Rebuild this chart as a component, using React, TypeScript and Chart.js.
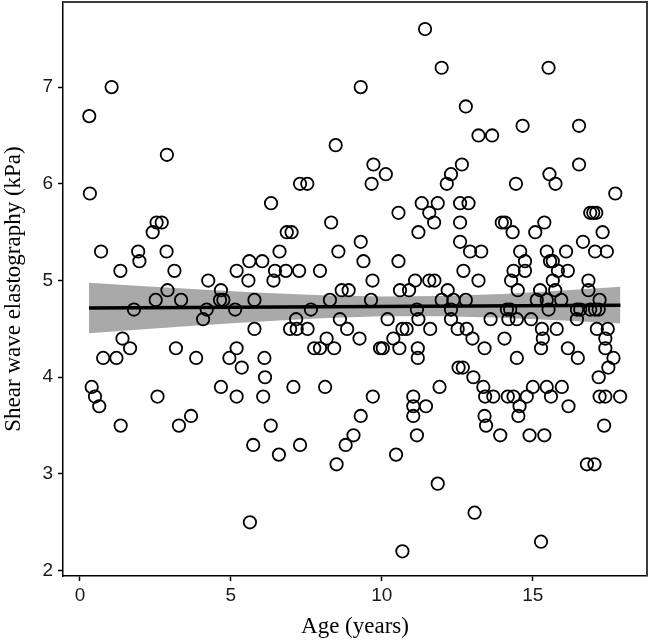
import { useEffect, useRef } from "react";
import { Chart, registerables } from "chart.js";

Chart.register(...registerables);

// Age of each participant (years) and measured liver stiffness (kPa), same order.
const ageYears = [
  0.31, 1.05, 2.88, 0.33, 2.41, 2.54, 2.71, 0.7, 1.93, 1.97, 2.87, 1.34, 3.13, 4.25, 2.9, 2.51, 3.35,
  1.79, 4.08, 4.2, 1.41, 1.66, 0.77, 1.21, 3.18, 3.85, 0.39, 0.5, 0.64, 2.57, 1.35, 3.28, 3.68,
  6.33, 8.32, 6.85, 7.01, 6.61, 8.56, 5.61, 6.04, 5.19, 6.46, 6.82, 7.26, 7.95, 5.58, 6.41, 4.67,
  4.64, 4.75, 5.78, 8.28, 8.67, 8.9, 5.14, 7.65, 7.16, 8.61, 5.78, 6.96, 7.18, 7.54, 8.85, 8.17,
  7.76, 7.95, 8.42, 5.19, 4.95, 6.11, 5.36, 6.13, 4.67, 7.07, 8.12, 5.19, 6.07, 6.32, 5.74, 6.59,
  7.29, 8.5, 5.63, 7.29, 7.53, 8.47, 8.8, 9.06,
  11.43, 11.98, 9.3, 12.78, 13.2, 13.65, 9.72, 10.13, 9.66, 12.65, 12.29, 12.15, 11.32, 11.85,
  12.59, 12.87, 10.55, 11.57, 11.73, 12.59, 11.21, 9.3, 12.59, 12.92, 13.29, 9.39, 10.55, 12.7,
  13.2, 9.69, 11.1, 11.57, 11.74, 10.6, 10.9, 12.18, 9.64, 11.98, 12.37, 12.78, 11.16, 11.21,
  12.29, 12.29, 10.19, 13.6, 10.68, 10.82, 11.6, 12.51, 12.81, 9.26, 10.38, 13.0, 9.94, 10.03,
  10.58, 11.19, 11.19, 13.4, 12.54, 12.68, 13.03, 13.36, 11.91, 9.7, 11.04, 11.04, 11.04, 11.46,
  9.3, 11.16, 10.47, 11.85, 13.07, 10.68, 13.4, 13.45, 13.42,
  13.69, 15.52, 14.66, 16.53, 16.53, 15.55, 15.75, 14.44, 17.73, 16.9, 17.0, 17.1, 13.97, 14.08,
  14.33, 15.38, 15.08, 17.31, 16.66, 14.58, 14.74, 15.46, 15.57, 15.66, 16.1, 17.06, 17.45, 14.74,
  14.36, 15.83, 16.16, 14.28, 15.66, 16.84, 16.84, 14.5, 15.24, 15.74, 15.13, 15.46, 15.94, 17.21,
  17.18, 14.14, 14.25, 15.52, 16.46, 16.57, 16.9, 17.06, 14.19, 14.47, 14.94, 16.46, 15.3, 15.79,
  17.12, 17.48, 15.33, 14.06, 17.4, 15.27, 16.16, 17.4, 16.49, 14.47, 17.67, 17.5, 17.18, 15.0,
  15.46, 15.96, 14.17, 14.36, 14.8, 15.6, 17.21, 17.4, 17.89, 14.56, 16.18, 13.92, 14.52, 14.89,
  15.38, 17.36, 16.79, 17.04, 15.27,
];

const stiffnessKPa = [
  6.7, 7.0, 6.3, 5.9, 5.5, 5.6, 5.6, 5.3, 5.3, 5.2, 5.3, 5.1, 5.1, 5.0, 4.9, 4.8, 4.8,
  4.7, 4.6, 4.7, 4.4, 4.3, 4.2, 4.2, 4.3, 4.2, 3.9, 3.8, 3.7, 3.8, 3.5, 3.5, 3.6,
  5.8, 5.6, 5.5, 5.5, 5.3, 5.3, 5.2, 5.2, 5.1, 5.1, 5.1, 5.1, 5.1, 5.0, 5.0, 4.9,
  4.8, 4.8, 4.8, 4.8, 4.9, 4.9, 4.7, 4.7, 4.6, 4.6, 4.5, 4.5, 4.5, 4.5, 4.5, 4.4,
  4.3, 4.3, 4.3, 4.3, 4.2, 4.2, 4.1, 4.0, 3.9, 3.9, 3.9, 3.8, 3.8, 3.5, 3.3, 3.2,
  3.3, 3.1, 2.5, 6.0, 6.0, 6.4, 3.3, 3.4,
  7.6, 7.2, 7.0, 6.8, 6.5, 6.5, 6.2, 6.1, 6.0, 6.2, 6.1, 6.0, 5.8, 5.8,
  5.8, 5.8, 5.7, 5.7, 5.6, 5.6, 5.5, 5.4, 5.4, 5.3, 5.3, 5.2, 5.2, 5.1,
  5.0, 5.0, 5.0, 5.0, 5.0, 4.9, 4.9, 4.9, 4.8, 4.8, 4.8, 4.8, 4.7, 4.6,
  4.7, 4.6, 4.6, 4.6, 4.5, 4.5, 4.5, 4.5, 4.5, 4.4, 4.4, 4.4, 4.3, 4.3,
  4.3, 4.3, 4.2, 4.3, 4.1, 4.1, 4.0, 3.9, 3.9, 3.8, 3.8, 3.7, 3.6, 3.7,
  3.6, 3.4, 3.2, 2.9, 2.6, 2.2, 3.6, 3.5, 3.8,
  3.8, 7.2, 6.6, 6.6, 6.2, 6.1, 6.0, 6.0, 5.9, 5.7, 5.7, 5.7, 5.6, 5.6,
  5.5, 5.6, 5.5, 5.5, 5.4, 5.3, 5.2, 5.3, 5.2, 5.2, 5.3, 5.3, 5.3, 5.1,
  5.1, 5.1, 5.1, 5.0, 5.0, 5.0, 4.9, 4.9, 4.9, 4.9, 4.8, 4.8, 4.8, 4.8,
  4.7, 4.7, 4.7, 4.7, 4.7, 4.7, 4.7, 4.7, 4.6, 4.6, 4.6, 4.6, 4.5, 4.5,
  4.5, 4.5, 4.4, 4.4, 4.4, 4.3, 4.3, 4.3, 4.2, 4.2, 4.2, 4.1, 4.0, 3.9,
  3.9, 3.9, 3.8, 3.8, 3.8, 3.8, 3.8, 3.8, 3.8, 3.7, 3.7, 3.4, 3.6, 3.4,
  3.4, 3.5, 3.1, 3.1, 2.3,
];

// Fitted linear trend and its 95% confidence band.
const fitAge = [0.3, 17.9];
const fitValue = [4.716, 4.745];
const bandAge = [0.3, 2, 4, 6, 8, 10, 12, 14, 16, 17.9];
const bandUpper = [4.976, 4.944, 4.907, 4.875, 4.848, 4.834, 4.839, 4.862, 4.897, 4.935];
const bandLower = [4.456, 4.494, 4.537, 4.577, 4.61, 4.63, 4.631, 4.614, 4.587, 4.555];

const xTickValues = [0, 5, 10, 15];
const yTickValues = [2, 3, 4, 5, 6, 7];

// Thin frame along the top and right of the plotting panel.
const panelFrame = {
  id: "panelFrame",
  afterDraw(chart: any) {
    const { ctx, chartArea } = chart;
    ctx.save();
    ctx.strokeStyle = "#3c3c3c";
    ctx.lineWidth = 2;
    ctx.beginPath();
    ctx.moveTo(chartArea.left, chartArea.top);
    ctx.lineTo(chartArea.right, chartArea.top);
    ctx.lineTo(chartArea.right, chartArea.bottom);
    ctx.stroke();
    ctx.restore();
  },
};

export default function App() {
  const canvasRef = useRef<HTMLCanvasElement | null>(null);

  useEffect(() => {
    document.body.style.margin = "0";
    const canvas = canvasRef.current;
    if (!canvas) return;

    const points = ageYears.map((a, i) => ({ x: a, y: stiffnessKPa[i] }));
    const fitLine = fitAge.map((a, i) => ({ x: a, y: fitValue[i] }));
    const upper = bandAge.map((a, i) => ({ x: a, y: bandUpper[i] }));
    const lower = bandAge.map((a, i) => ({ x: a, y: bandLower[i] }));

    const tickFont = { family: "'Liberation Sans', Arial, sans-serif", size: 19 };
    const titleFont = { family: "'Liberation Serif', 'Times New Roman', serif", size: 23 };

    const chart = new Chart(canvas, {
      type: "scatter",
      data: {
        datasets: [
          {
            label: "observations",
            data: points,
            pointRadius: 6.2,
            pointHoverRadius: 6.2,
            pointBorderWidth: 1.8,
            pointBorderColor: "#000",
            pointBackgroundColor: "rgba(0,0,0,0)",
            order: 1,
          },
          {
            label: "fit",
            data: fitLine,
            showLine: true,
            borderColor: "#000",
            borderWidth: 3.6,
            pointRadius: 0,
            order: 2,
          },
          {
            label: "lower",
            data: lower,
            showLine: true,
            borderWidth: 0,
            borderColor: "rgba(0,0,0,0)",
            pointRadius: 0,
            order: 4,
          },
          {
            label: "upper",
            data: upper,
            showLine: true,
            borderWidth: 0,
            borderColor: "rgba(0,0,0,0)",
            backgroundColor: "#a9a9a9",
            fill: 2,
            pointRadius: 0,
            order: 3,
          },
        ],
      },
      options: {
        responsive: false,
        animation: false,
        layout: { autoPadding: false, padding: { top: 2, right: 2, left: 0, bottom: 0 } },
        plugins: {
          legend: { display: false },
          tooltip: { enabled: false },
        },
        scales: {
          x: {
            type: "linear",
            min: -0.56,
            max: 18.78,
            afterBuildTicks: (scale: any) => {
              scale.ticks = xTickValues.map((v) => ({ value: v }));
            },
            afterFit: (scale: any) => {
              scale.height = 66;
              scale.paddingLeft = 0;
              scale.paddingRight = 0;
            },
            grid: {
              drawOnChartArea: false,
              drawTicks: true,
              tickLength: 5,
              tickWidth: 1.5,
              tickColor: "#000",
            },
            border: { display: true, color: "#000", width: 1.5 },
            ticks: { font: tickFont, color: "#1a1a1a", padding: 3 },
            title: {
              display: true,
              text: "Age (years)",
              font: titleFont,
              color: "#000",
              padding: { top: 2, bottom: 1 },
            },
          },
          y: {
            type: "linear",
            min: 1.945,
            max: 7.88,
            afterBuildTicks: (scale: any) => {
              scale.ticks = yTickValues.map((v) => ({ value: v }));
            },
            afterFit: (scale: any) => {
              scale.width = 63;
              scale.paddingTop = 0;
              scale.paddingBottom = 0;
            },
            grid: {
              drawOnChartArea: false,
              drawTicks: true,
              tickLength: 5,
              tickWidth: 1.5,
              tickColor: "#000",
            },
            border: { display: true, color: "#000", width: 1.5 },
            ticks: { font: tickFont, color: "#1a1a1a", padding: 5 },
            title: {
              display: true,
              text: "Shear wave elastography (kPa)",
              font: titleFont,
              color: "#000",
              padding: { top: 0, bottom: 2 },
            },
          },
        },
      },
      plugins: [panelFrame],
    });

    return () => chart.destroy();
  }, []);

  return (
    <div style={{ position: "absolute", left: 0, top: 0, width: 649, height: 642, background: "#fff" }}>
      <canvas ref={canvasRef} width={649} height={642} />
    </div>
  );
}
